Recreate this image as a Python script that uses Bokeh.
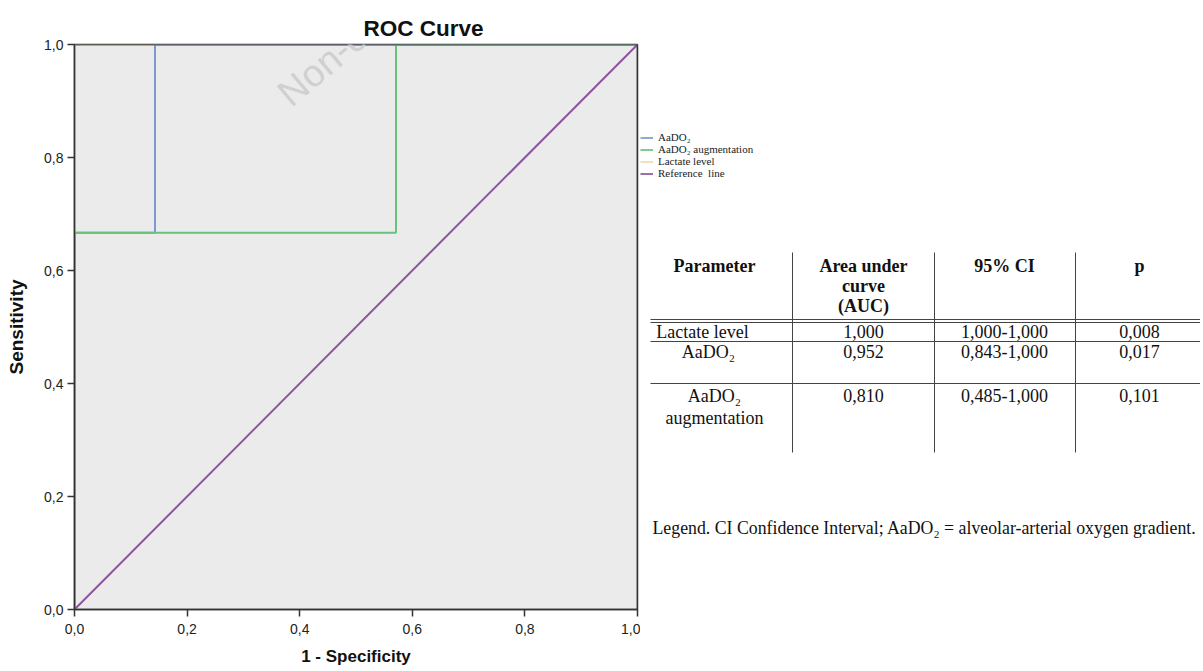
from bokeh.plotting import figure
from bokeh.models import Range1d, FixedTicker, Legend, LegendItem, Label, Span, ColumnDataSource
from bokeh.layouts import row
from bokeh.embed import file_html
from bokeh.resources import INLINE
from bokeh.core.properties import value

# ---------------- data ----------------
aado2_fpr = [0.0, 0.0, 0.143, 0.143, 1.0]
aado2_tpr = [0.0, 0.667, 0.667, 1.0, 1.0]
aug_fpr = [0.0, 0.0, 0.571, 0.571, 1.0]
aug_tpr = [0.0, 0.667, 0.667, 1.0, 1.0]
lact_fpr = [0.0, 0.0, 1.0]
lact_tpr = [0.0, 1.0, 1.0]
ref_fpr = [0.0, 1.0]
ref_tpr = [0.0, 1.0]

series_names = ["AaDO₂", "AaDO₂ augmentation", "Lactate level", "Reference  line"]
series_colors = ["#7f98d4", "#68c27c", "#efdcb2", "#8c569c"]
series_fpr = [aado2_fpr, aug_fpr, lact_fpr, ref_fpr]
series_tpr = [aado2_tpr, aug_tpr, lact_tpr, ref_tpr]

tick_values = [0.0, 0.2, 0.4, 0.6, 0.8, 1.0]
tick_labels = ["0,0", "0,2", "0,4", "0,6", "0,8", "1,0"]

table_header = [["Parameter"], ["Area under", "curve", "(AUC)"], ["95% CI"], ["p"]]
table_params = [["Lactate level"], ["AaDO₂"], ["AaDO₂", "augmentation"]]
table_auc = ["1,000", "0,952", "0,810"]
table_ci = ["1,000-1,000", "0,843-1,000", "0,485-1,000"]
table_p = ["0,008", "0,017", "0,101"]
note_text = "Legend. CI Confidence Interval;  AaDO₂ = alveolar-arterial  oxygen gradient."
watermark_text = "Non-co"

# ---------------- layout constants ----------------
H = 670
FRAME_TOP, FRAME_BOTTOM = 44, 609
SANS = "Liberation Sans"
SERIF = "Liberation Serif"
EDGE = "#333333"

# ---------------- ROC figure ----------------
p = figure(width=640, height=H, x_range=Range1d(0, 1), y_range=Range1d(0, 1),
           output_backend="svg", toolbar_location=None,
           min_border_left=74, min_border_right=3,
           min_border_top=FRAME_TOP, min_border_bottom=H - FRAME_BOTTOM)
p.background_fill_color = "#ebebec"
p.border_fill_color = "white"
p.grid.visible = False
p.outline_line_color = EDGE
p.outline_line_width = 1.5

p.title.text = "ROC Curve"
p.title.align = "left"
p.title.offset = 289
p.title.standoff = 8
p.title.text_font = SANS
p.title.text_font_size = "22.5px"
p.title.text_font_style = "bold"
p.title.text_color = "#111111"

for ax in (p.xaxis[0], p.yaxis[0]):
    ax.ticker = FixedTicker(ticks=tick_values)
    ax.major_label_overrides = dict(zip(tick_values, tick_labels))
    ax.minor_tick_line_color = None
    ax.major_tick_out = 7
    ax.major_tick_in = 0
    ax.major_tick_line_color = EDGE
    ax.major_tick_line_width = 1.5
    ax.axis_line_color = EDGE
    ax.axis_line_width = 1.5
    ax.major_label_text_font = SANS
    ax.major_label_text_font_size = "14px"
    ax.major_label_text_color = "#222222"
    ax.axis_label_text_font = SANS
    ax.axis_label_text_font_style = "bold"
    ax.axis_label_text_color = "#111111"

p.xaxis[0].axis_label = "1 - Specificity"
p.xaxis[0].axis_label_text_font_size = "17px"
p.xaxis[0].major_label_standoff = 7
p.xaxis[0].axis_label_standoff = 10
p.yaxis[0].axis_label = "Sensitivity"
p.yaxis[0].axis_label_text_font_size = "19px"
p.yaxis[0].major_label_standoff = 4
p.yaxis[0].axis_label_standoff = 14

# draw order: lactate underneath, then AaDO2, augmentation, reference
for i in (2, 0, 1, 3):
    p.line(series_fpr[i], series_tpr[i], line_color=series_colors[i], line_width=2)

# dark frame edges on top of the curves (top and right sides)
p.add_layout(Span(location=1, dimension="width", line_color=EDGE, line_width=1.5))
p.add_layout(Span(location=1, dimension="height", line_color=EDGE, line_width=1.5))

wm = Label(x=0.37, y=0.905, text=watermark_text, angle=40, angle_units="deg",
           text_font=SANS, text_font_size="38px", text_color="#cdcdcd", text_alpha=0.9,
           text_align="left", text_baseline="alphabetic", level="overlay")
p.add_layout(wm)

# ---------------- right panel: legend + table ----------------
W2 = 560
t = figure(width=W2, height=H, x_range=Range1d(0, W2), y_range=Range1d(FRAME_BOTTOM, FRAME_TOP),
           output_backend="svg", toolbar_location=None,
           min_border_left=0, min_border_right=0,
           min_border_top=FRAME_TOP, min_border_bottom=H - FRAME_BOTTOM,
           x_axis_location=None, y_axis_location=None)
t.grid.visible = False
t.outline_line_color = None
t.background_fill_color = "white"
t.border_fill_color = "white"

# legend entries: proxies of the ROC lines on an off-view range (only their legend glyphs show)
t.extra_x_ranges = {"offview": Range1d(-3, -2)}
proxies = [t.line(series_fpr[i], series_tpr[i], x_range_name="offview",
                  line_color=series_colors[i], line_width=1.7) for i in range(4)]
legend = Legend(items=[LegendItem(label=n, renderers=[r]) for n, r in zip(series_names, proxies)],
                location=(0, 430), orientation="vertical",
                label_text_font=SERIF, label_text_font_size="11px", label_text_color="#222222",
                label_height=11, glyph_height=11, glyph_width=13, label_standoff=5,
                spacing=0, padding=0, margin=0,
                border_line_alpha=0, background_fill_alpha=0)
t.add_layout(legend)

# table layout (x relative to the panel's left edge, y in page pixels)
col_x = [74, 223, 364, 499]
param_x = [62, 68, 74]
vline_x = [152, 294, 435]
vline_top, vline_bottom = 252, 452
header_y = [265, 285, 305]
row_y = [[331], [351], [395, 417]]
hline_y = [319, 322, 341, 383]
hline_x0 = 10

hx, hy, ht = [], [], []
for ci, lines in enumerate(table_header):
    for li, s in enumerate(lines):
        hx.append(col_x[ci]); hy.append(header_y[li]); ht.append(s)
t.text(x="x", y="y", text="text", source=ColumnDataSource(dict(x=hx, y=hy, text=ht)),
       text_font=value(SERIF), text_font_size=value("18px"), text_font_style="bold",
       text_align="center", text_baseline="middle", text_color="#111111")

bx, by, bt = [], [], []
for ri in range(len(table_params)):
    for li, s in enumerate(table_params[ri]):
        bx.append(param_x[ri]); by.append(row_y[ri][li]); bt.append(s)
    for ci, col in enumerate([table_auc, table_ci, table_p]):
        bx.append(col_x[ci + 1]); by.append(row_y[ri][0]); bt.append(col[ri])
t.text(x="x", y="y", text="text", source=ColumnDataSource(dict(x=bx, y=by, text=bt)),
       text_font=value(SERIF), text_font_size=value("18px"),
       text_align="center", text_baseline="middle", text_color="#111111")

t.segment(x0=vline_x, y0=[vline_top] * 3, x1=vline_x, y1=[vline_bottom] * 3,
          line_color="#444444", line_width=1)
t.segment(x0=[hline_x0] * 4, y0=hline_y, x1=[W2] * 4, y1=hline_y,
          line_color="#444444", line_width=1)

t.text(x=[12], y=[527], text=[note_text], text_font=value(SERIF), text_font_size=value("17.8px"),
       text_align="left", text_baseline="middle", text_color="#111111")

layout = row(p, t)
open("out.html", "w").write(file_html(layout, INLINE))
